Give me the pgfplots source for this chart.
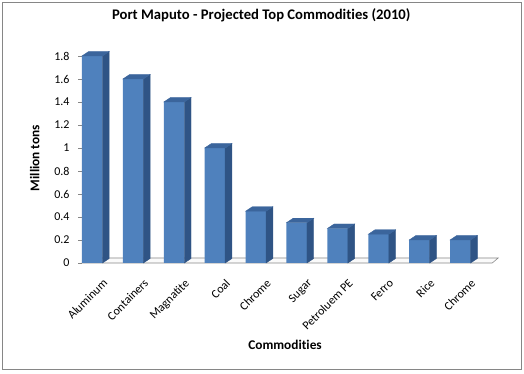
\documentclass[border=0pt]{standalone}
\usepackage{pgfplots}
\usepackage{pgfplotstable}
\pgfplotsset{compat=1.18}
\usepackage{fontspec}
\setmainfont{Carlito}[Ligatures={NoCommon,NoContextual}]
\definecolor{front}{HTML}{4F81BD}
\definecolor{sidec}{HTML}{2F5485}
\definecolor{topc}{HTML}{3B659C}
\definecolor{axgray}{HTML}{868686}
\pgfdeclareplotmark{empty}{}
\pgfplotstableread{
x y
0 1.8
1 1.6
2 1.4
3 1.0
4 0.45
5 0.35
6 0.3
7 0.25
8 0.2
9 0.2
}\datatable
\begin{document}
\begin{tikzpicture}
\path (0pt,0pt) rectangle (524pt,374pt);
\draw[axgray, line width=0.9pt] (2pt,4.5pt) rectangle (521.5pt,372pt);
\begin{axis}[
  at={(82pt,111pt)}, anchor=south west,
  x=40.9pt, y=115pt,
  xmin=-0.25, xmax=9.78, ymin=0, ymax=1.8,
  clip=false,
  axis x line*=bottom, axis y line*=left,
  x axis line style={draw=none},
  y axis line style={-, axgray},
  xtick={0,...,9},
  xticklabels={Aluminum,Containers,Magnatite,Coal,Chrome,Sugar,Petroluem PE,Ferro,Rice,Chrome},
  xtick style={draw=none},
  xticklabel style={xshift=10pt, yshift=-11pt, rotate=45, anchor=north east, inner sep=0pt, font=\fontsize{12}{14}\selectfont},
  ytick={0,0.2,...,1.8},
  ytick style={axgray},
  tick align=outside, major tick length=4pt,
  /pgf/number format/assume math mode=true,
  yticklabel style={xshift=-5pt, font=\fontsize{12}{14}\selectfont, /pgf/number format/fixed, /pgf/number format/precision=1},
  ylabel={Million tons},
  ylabel style={at={(axis description cs:-0.115,0.507)}, anchor=center, font=\bfseries\fontsize{13.33}{15}\selectfont},
  xlabel={Commodities},
  xlabel style={at={(axis description cs:0.495,-0.396)}, anchor=center, font=\bfseries\fontsize{13.33}{15}\selectfont},
  title={Port Maputo - Projected Top Commodities (2010)},
  title style={at={(axis description cs:0.437,1.169)}, anchor=center, yshift=0pt, font=\bfseries\fontsize{14.67}{17}\selectfont},
]
\fill[white!96!gray, draw=axgray, line width=0.6pt] (axis cs:-0.25,0) -- (axis cs:9.78,0) -- ([shift={(6pt,5pt)}]axis cs:9.78,0) -- ([shift={(6pt,5pt)}]axis cs:-0.25,0) -- cycle;
\addplot[ybar, bar width=20.5pt, fill=front, draw=none] table[x=x,y=y] {\datatable};
\addplot[scatter, only marks, mark=empty,
  visualization depends on={rawy \as \rawy},
  scatter/@pre marker code/.code={%
    \fill[sidec] (10.25pt,0pt) -- (17pt,4.5pt) -- (17pt,{4.5pt-\rawy*115pt}) -- (10.25pt,{-\rawy*115pt}) -- cycle;
    \fill[topc] (-10.25pt,0pt) -- (10.25pt,0pt) -- (17pt,4.5pt) -- (-3.5pt,4.5pt) -- cycle;
  },
  scatter/@post marker code/.code={}
] table[x=x,y=y] {\datatable};
\end{axis}
\end{tikzpicture}
\end{document}
